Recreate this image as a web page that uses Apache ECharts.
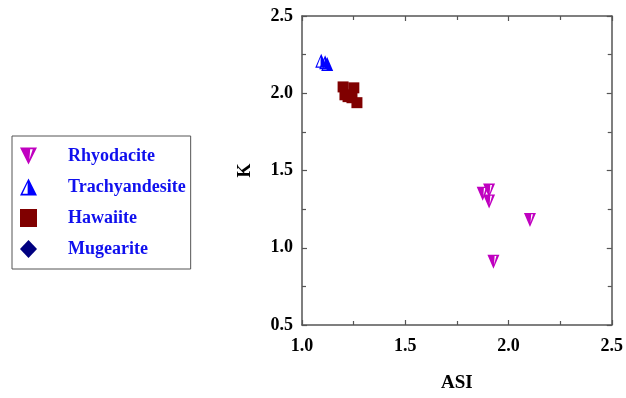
<!DOCTYPE html>
<html><head><meta charset="utf-8">
<script src="https://cdn.jsdelivr.net/npm/echarts@6/dist/echarts.min.js"></script>
<style>html,body{margin:0;padding:0;background:#fff}#c{width:626px;height:398px}</style>
</head><body><div id="c"></div>
<script>
const seriesNames = ['Rhyodacite', 'Trachyandesite', 'Hawaiite', 'Mugearite'];
const rhyodacite = [[1.875,1.35],[1.906,1.37],[1.906,1.30],[2.104,1.18],[1.927,0.91]];
const trachyandesite = [[1.093,2.21],[1.112,2.20],[1.122,2.19]];
const hawaiite = [[1.199,2.041],[1.208,1.990],[1.251,2.035],[1.242,1.971],[1.266,1.939],[1.223,1.978]];
const mugearite = [];
const xTicks = [1.0, 1.5, 2.0, 2.5];
const yTicks = [0.5, 1.0, 1.5, 2.0, 2.5];

const downTri = 'path://M0 0L20 0L10 20ZM12 2L11 14L15 2Z';
const upTri = 'path://M10 0L20 20L0 20ZM9 5L3 18L9 18Z';
const font = '"Liberation Serif", "Times New Roman", serif';
const axisCol = '#555';

function axisBase(min, max, showLabel, pos) {
  return {
    type: 'value', min: min, max: max, interval: 0.5, position: pos,
    axisLine: {show: true, onZero: false, lineStyle: {color: axisCol, width: 1.5}},
    axisTick: {show: true, inside: true, length: 5, lineStyle: {color: axisCol, width: 1.2}},
    minorTick: {show: true, splitNumber: 2, length: 4, lineStyle: {color: axisCol, width: 1.2}},
    splitLine: {show: false},
    axisLabel: {show: showLabel, color: '#000', fontFamily: font, fontWeight: 'bold', fontSize: 18,
      formatter: v => v.toFixed(1)}
  };
}
const xMain = Object.assign(axisBase(xTicks[0], xTicks[xTicks.length-1], true, 'bottom'), {
  name: 'ASI', nameLocation: 'middle', nameGap: 49,
  nameTextStyle: {color: '#000', fontFamily: font, fontWeight: 'bold', fontSize: 19}
});
xMain.axisLabel.margin = 12;
const yMain = Object.assign(axisBase(yTicks[0], yTicks[yTicks.length-1], true, 'left'), {
  name: 'K', nameLocation: 'middle', nameGap: 48,
  nameTextStyle: {color: '#000', fontFamily: font, fontWeight: 'bold', fontSize: 18}
});
yMain.axisLabel.margin = 9;

const chart = echarts.init(document.getElementById('c'));
chart.setOption({
  animation: false,
  backgroundColor: '#fff',
  grid: {left: 302, top: 16, width: 314, height: 314},
  xAxis: [xMain, axisBase(1.0, 2.5, false, 'top')],
  yAxis: [yMain, axisBase(0.5, 2.5, false, 'right')],
  legend: {
    orient: 'vertical', left: 12, top: 136,
    padding: [11, 5, 11, 8], itemGap: 13, itemWidth: 17, itemHeight: 18,
    borderColor: '#555', borderWidth: 1,
    data: seriesNames,
    textStyle: {color: '#1010ee', fontFamily: font, fontWeight: 'bold', fontSize: 18, padding: [0,0,0,26]}
  },
  series: [
    {name: seriesNames[0], type: 'scatter', data: rhyodacite, symbol: downTri, symbolSize: [12, 14], itemStyle: {color: '#c000c0', opacity: 1}},
    {name: seriesNames[1], type: 'scatter', data: trachyandesite, symbol: upTri, symbolSize: [12, 14], itemStyle: {color: '#0000ff', opacity: 1}},
    {name: seriesNames[2], type: 'scatter', data: hawaiite, symbol: 'rect', symbolSize: 11, itemStyle: {color: '#800000', opacity: 1}},
    {name: seriesNames[3], type: 'scatter', data: mugearite, symbol: 'diamond', symbolSize: 12, itemStyle: {color: '#000080', opacity: 1}}
  ]
});
</script></body></html>
